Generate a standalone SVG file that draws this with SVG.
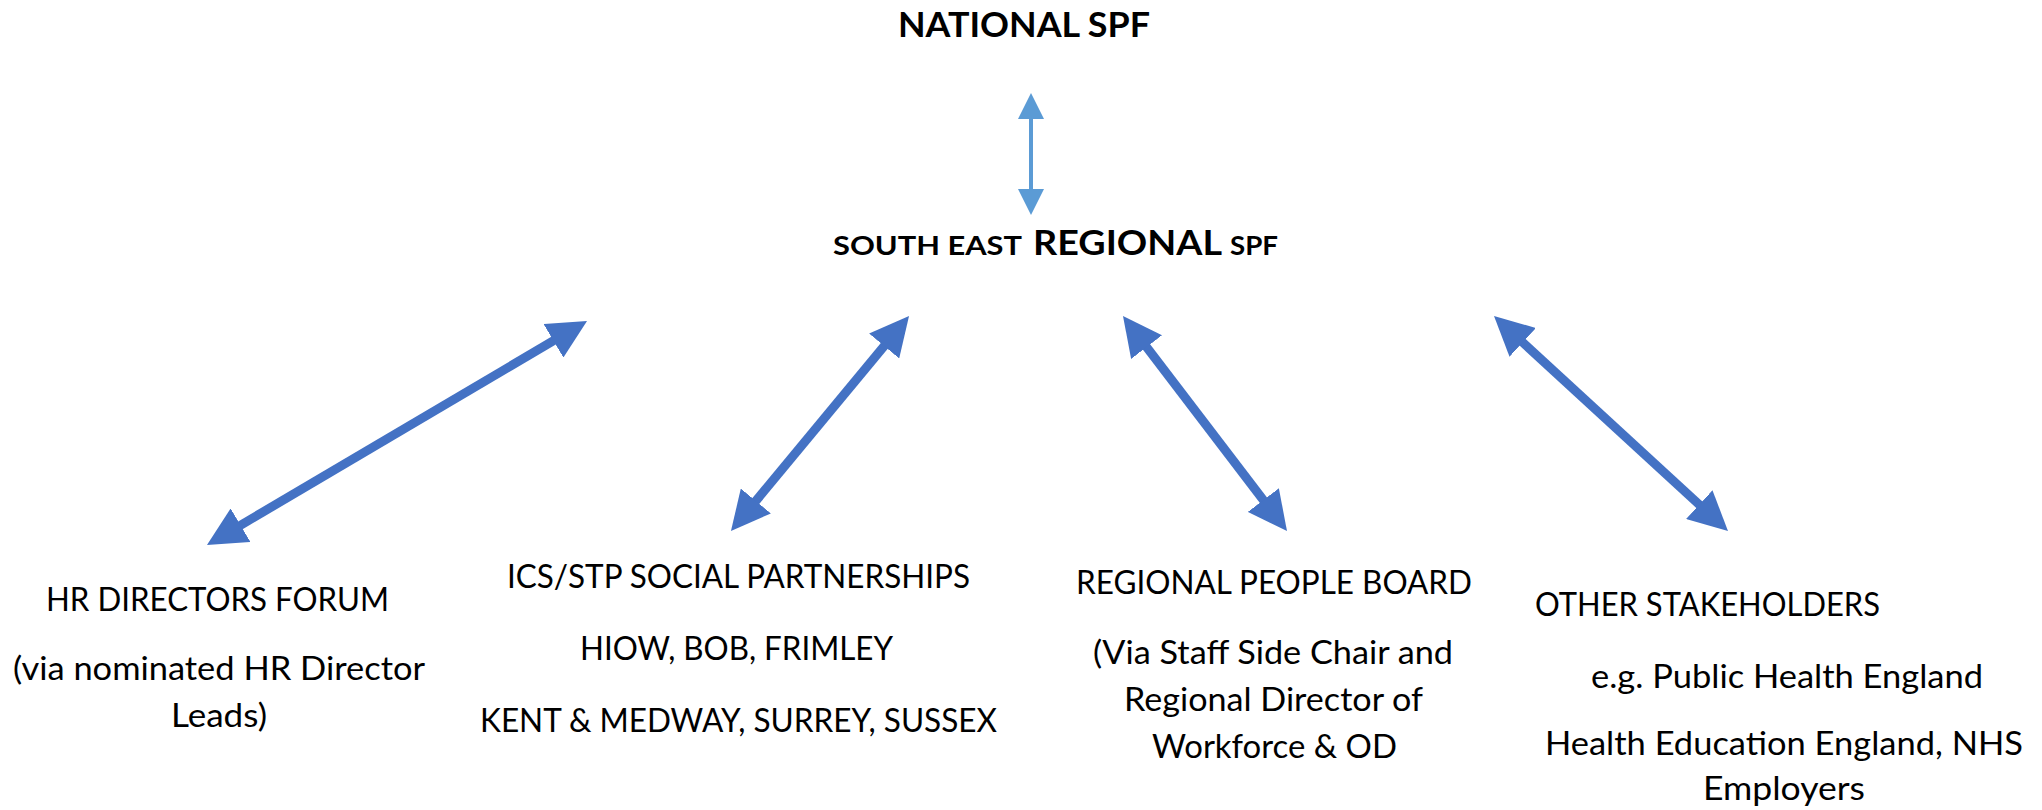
<svg xmlns="http://www.w3.org/2000/svg" width="2042" height="810" viewBox="0 0 2042 810">
  <style>
    text { font-family: Lato, "Liberation Sans", sans-serif; fill: #000; }
    .lbl { font-size: 32px; }
    .b { font-weight: bold; }
    .main { stroke: #4472C4; stroke-width: 9; fill: none; }
    .nat { stroke: #5B9BD5; stroke-width: 4; fill: none; }
  </style>
  <defs>
    <marker id="headMain" markerUnits="userSpaceOnUse" markerWidth="39" markerHeight="39" viewBox="0 0 39 39" refX="9" refY="19.5" orient="auto-start-reverse">
      <path d="M0,0 L39,19.5 L0,39 z" fill="#4472C4"/>
    </marker>
    <marker id="headNat" markerUnits="userSpaceOnUse" markerWidth="26" markerHeight="26" viewBox="0 0 26 26" refX="6" refY="13" orient="auto-start-reverse">
      <path d="M0,0 L26,13 L0,26 z" fill="#5B9BD5"/>
    </marker>
  </defs>
  <rect width="2042" height="810" fill="#fff"/>

  <g id="national-spf">
    <text class="b" x="898" y="37" font-size="35" textLength="252" lengthAdjust="spacingAndGlyphs">NATIONAL SPF</text>
  </g>

  <g id="south-east-regional-spf">
    <text class="b" x="833" y="255" font-size="27.5" textLength="189" lengthAdjust="spacingAndGlyphs">SOUTH EAST</text>
    <text class="b" x="1033" y="255" font-size="33.5" textLength="189" lengthAdjust="spacingAndGlyphs">REGIONAL</text>
    <text class="b" x="1230" y="255" font-size="27.5" textLength="48" lengthAdjust="spacingAndGlyphs">SPF</text>
  </g>

  <g id="hr-directors-forum">
    <text class="lbl" x="46" y="611" textLength="343" lengthAdjust="spacingAndGlyphs">HR DIRECTORS FORUM</text>
    <text class="lbl" x="13" y="680" textLength="412" lengthAdjust="spacingAndGlyphs">(via nominated HR Director</text>
    <text class="lbl" x="171" y="727" textLength="96" lengthAdjust="spacingAndGlyphs">Leads)</text>
  </g>

  <g id="ics-stp-social-partnerships">
    <text class="lbl" x="507" y="588" textLength="463" lengthAdjust="spacingAndGlyphs">ICS/STP SOCIAL PARTNERSHIPS</text>
    <text class="lbl" x="580" y="660" textLength="313" lengthAdjust="spacingAndGlyphs">HIOW, BOB, FRIMLEY</text>
    <text class="lbl" x="480" y="732" textLength="517" lengthAdjust="spacingAndGlyphs">KENT &amp; MEDWAY, SURREY, SUSSEX</text>
  </g>

  <g id="regional-people-board">
    <text class="lbl" x="1076" y="594" textLength="396" lengthAdjust="spacingAndGlyphs">REGIONAL PEOPLE BOARD</text>
    <text class="lbl" x="1093" y="664" textLength="360" lengthAdjust="spacingAndGlyphs">(Via Staff Side Chair and</text>
    <text class="lbl" x="1124" y="711" textLength="299" lengthAdjust="spacingAndGlyphs">Regional Director of</text>
    <text class="lbl" x="1152" y="758" textLength="245" lengthAdjust="spacingAndGlyphs">Workforce &amp; OD</text>
  </g>

  <g id="other-stakeholders">
    <text class="lbl" x="1535" y="616" textLength="345" lengthAdjust="spacingAndGlyphs">OTHER STAKEHOLDERS</text>
    <text class="lbl" x="1591" y="688" textLength="392" lengthAdjust="spacingAndGlyphs">e.g. Public Health England</text>
    <text class="lbl" x="1545" y="755" textLength="478" lengthAdjust="spacingAndGlyphs">Health Education England, NHS</text>
    <text class="lbl" x="1703" y="800" textLength="162" lengthAdjust="spacingAndGlyphs">Employers</text>
  </g>

  <g id="connectors">
    <line class="nat" x1="1031" y1="113" x2="1031" y2="195" marker-start="url(#headNat)" marker-end="url(#headNat)"/>
    <line class="main" x1="232.8" y1="529.8" x2="561.2" y2="336.2" marker-start="url(#headMain)" marker-end="url(#headMain)"/>
    <line class="main" x1="750.1" y1="507.9" x2="889.9" y2="339.1" marker-start="url(#headMain)" marker-end="url(#headMain)"/>
    <line class="main" x1="1141.2" y1="339.9" x2="1268.8" y2="507.2" marker-start="url(#headMain)" marker-end="url(#headMain)"/>
    <line class="main" x1="1516.1" y1="336.3" x2="1705.9" y2="510.7" marker-start="url(#headMain)" marker-end="url(#headMain)"/>
  </g>
</svg>
